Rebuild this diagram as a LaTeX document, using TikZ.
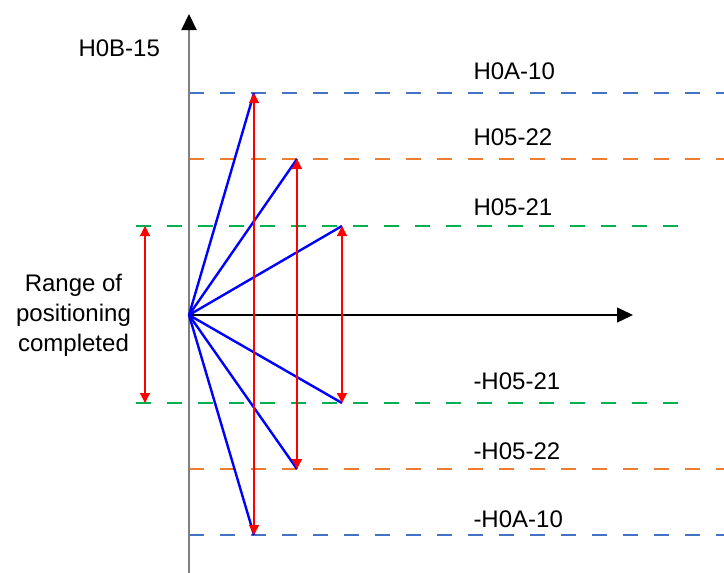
\documentclass[tikz,border=0pt]{standalone}
\usepackage{fontspec}
\setmainfont{Liberation Sans}
\usetikzlibrary{arrows.meta}
\definecolor{cblue}{HTML}{4472C4}
\definecolor{corange}{HTML}{ED7D31}
\definecolor{cgreen}{HTML}{00B050}
\definecolor{cgrey}{HTML}{7F7F7F}
\tikzset{
  every picture/.style={line width=1pt},
  lvl/.style={draw=#1, dash pattern=on 15pt off 16pt, line width=1.3pt},
  vec/.style={draw=blue, line width=2.4pt},
  rng/.style={{Triangle[length=10pt,width=10pt]}-{Triangle[length=10pt,width=10pt]}, draw=red, fill=red, line width=1.3pt},
  axis/.style={-{Triangle[length=16pt,width=15pt,color=black]}},
  lbl/.style={font=\fontsize{24}{30}\selectfont, inner sep=0pt},
}

\begin{document}
\begin{tikzpicture}[x=1pt, y=-1pt]
  \useasboundingbox (0,0) rectangle (724,573);
  \coordinate (o) at (189,315);
  \coordinate (ybot) at (189,573);
  \coordinate (ytop) at (189,14);
  \coordinate (xend) at (633,315);
  \foreach \n/\x/\yt/\yb/\c/\xs/\xe in {a/254/93/535/cblue/189/724, b/297/159/469/corange/189/724, c/342/226/403/cgreen/136/680} {
    \coordinate (t\n) at (\x,\yt);
    \coordinate (b\n) at (\x,\yb);
    \coordinate (tl\n) at (\xs,\yt);
    \coordinate (tr\n) at (\xe,\yt);
    \coordinate (bl\n) at (\xs,\yb);
    \coordinate (br\n) at (\xe,\yb);
    \draw[lvl=\c] (tl\n) -- (tr\n);
    \draw[lvl=\c] (bl\n) -- (br\n);
  }
  \draw[axis, draw=cgrey, line width=2pt] (ybot) -- (ytop);
  \draw[axis, draw=black, line width=1.3pt] (o) -- (xend);
  \foreach \n in {a, b, c} {
    \draw[vec] (o) -- (t\n);
    \draw[vec] (o) -- (b\n);
  }
  \foreach \n in {a, b, c}
    \draw[rng] (b\n) -- (t\n);
  \coordinate (lt) at (145,226);
  \coordinate (lb) at (145,403);
  \draw[rng] (lb) -- (lt);
  \node[lbl, anchor=base west] (hb) at (78,56) {H0B-15};
  \foreach \n/\y/\t in {pa/79/H0A-10, pb/145.5/H05-22, pc/215/H05-21, nc/389/-H05-21, nb/459/-H05-22, na/527/-H0A-10}
    \node[lbl, anchor=base west] (l\n) at (473,\y) {\t};
  \node[lbl, align=center] (rng) at (73.5,315) {Range of\\positioning\\completed};
\end{tikzpicture}
\end{document}
